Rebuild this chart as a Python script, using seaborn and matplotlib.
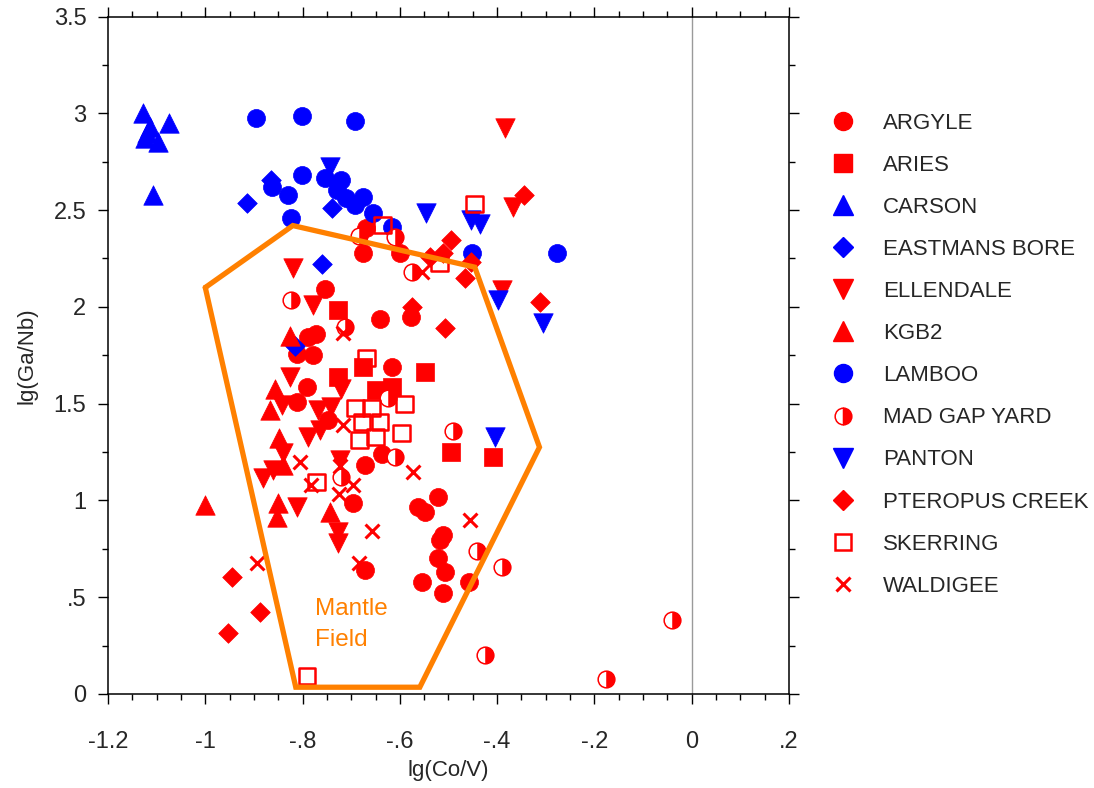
import matplotlib
matplotlib.use("Agg")
import numpy as np
import pandas as pd
import matplotlib.pyplot as plt
from matplotlib.lines import Line2D
from matplotlib.markers import MarkerStyle
from matplotlib.ticker import FixedLocator, FixedFormatter, MultipleLocator
import seaborn as sns

sns.set_theme(style="white")
plt.rcParams["font.family"] = ["Liberation Sans", "DejaVu Sans"]

# ---- sample data: lg(Co/V) and lg(Ga/Nb) per locality ----
argyle_x = [-0.670, -0.676, -0.600, -0.754, -0.641, -0.578, -0.789, -0.773, -0.812, -0.779,
            -0.791, -0.812, -0.748, -0.617, -0.672, -0.637, -0.522, -0.563, -0.549, -0.512,
            -0.518, -0.522, -0.508, -0.555, -0.512, -0.457, -0.697, -0.672]
argyle_y = [2.407, 2.278, 2.278, 2.092, 1.937, 1.947, 1.844, 1.860, 1.756, 1.751,
            1.586, 1.508, 1.415, 1.689, 1.183, 1.240, 1.018, 0.966, 0.940, 0.821,
            0.795, 0.702, 0.630, 0.579, 0.522, 0.579, 0.987, 0.640]

aries_x = [-0.728, -0.676, -0.549, -0.617, -0.650, -0.728, -0.494, -0.409]
aries_y = [1.983, 1.689, 1.663, 1.586, 1.570, 1.637, 1.250, 1.224]

carson_x = [-1.129, -1.074, -1.114, -1.120, -1.124, -1.097, -1.107]
carson_y = [3.000, 2.950, 2.930, 2.900, 2.870, 2.853, 2.578]

eastmans_x = [-0.915, -0.864, -0.739, -0.761, -0.816]
eastmans_y = [2.534, 2.655, 2.509, 2.221, 1.800]

ellendale_x = [-0.383, -0.368, -0.389, -0.820, -0.779, -0.826, -0.722, -0.769, -0.742, -0.789,
               -0.765, -0.841, -0.724, -0.861, -0.882, -0.812, -0.728, -0.728, -0.843]
ellendale_y = [2.924, 2.515, 2.087, 2.200, 2.009, 1.637, 1.575, 1.467, 1.482, 1.327,
               1.364, 1.245, 1.209, 1.157, 1.116, 0.966, 0.837, 0.780, 1.493]

kgb2_x = [-1.001, -0.826, -0.857, -0.867, -0.849, -0.851, -0.853, -0.744, -0.841]
kgb2_y = [0.976, 1.849, 1.575, 1.467, 1.322, 0.987, 0.914, 0.940, 1.183]

lamboo_x = [-0.896, -0.802, -0.693, -0.802, -0.863, -0.830, -0.824, -0.754, -0.720, -0.730,
            -0.710, -0.676, -0.693, -0.655, -0.617, -0.452, -0.277]
lamboo_y = [2.975, 2.986, 2.960, 2.680, 2.620, 2.580, 2.460, 2.664, 2.655, 2.603,
            2.560, 2.569, 2.526, 2.483, 2.410, 2.276, 2.280]

madgap_x = [-0.824, -0.713, -0.625, -0.611, -0.720, -0.490, -0.442, -0.391, -0.424, -0.177,
            -0.040, -0.683, -0.609, -0.576]
madgap_y = [2.035, 1.896, 1.529, 1.224, 1.121, 1.358, 0.739, 0.656, 0.201, 0.077,
            0.382, 2.366, 2.361, 2.180]

panton_x = [-0.744, -0.547, -0.453, -0.436, -0.399, -0.306, -0.405]
panton_y = [2.725, 2.486, 2.448, 2.430, 2.035, 1.915, 1.330]

pteropus_x = [-0.344, -0.494, -0.539, -0.512, -0.453, -0.467, -0.311, -0.576, -0.508, -0.945,
              -0.888, -0.954]
pteropus_y = [2.577, 2.345, 2.257, 2.278, 2.231, 2.149, 2.025, 1.999, 1.890, 0.604,
              0.424, 0.315]

skerring_x = [-0.668, -0.691, -0.658, -0.590, -0.678, -0.641, -0.596, -0.683, -0.650, -0.771,
              -0.791, -0.635, -0.518, -0.446]
skerring_y = [1.736, 1.477, 1.477, 1.498, 1.405, 1.405, 1.348, 1.312, 1.327, 1.095,
              0.093, 2.423, 2.226, 2.531]

waldigee_x = [-0.555, -0.717, -0.717, -0.806, -0.724, -0.783, -0.697, -0.726, -0.658, -0.683,
              -0.894, -0.574, -0.455]
waldigee_y = [2.180, 1.865, 1.389, 1.198, 1.178, 1.080, 1.080, 1.033, 0.842, 0.677,
              0.677, 1.147, 0.899]

sites = ["ARGYLE", "ARIES", "CARSON", "EASTMANS BORE", "ELLENDALE", "KGB2", "LAMBOO",
         "MAD GAP YARD", "PANTON", "PTEROPUS CREEK", "SKERRING", "WALDIGEE"]
site_x = [argyle_x, aries_x, carson_x, eastmans_x, ellendale_x, kgb2_x, lamboo_x,
          madgap_x, panton_x, pteropus_x, skerring_x, waldigee_x]
site_y = [argyle_y, aries_y, carson_y, eastmans_y, ellendale_y, kgb2_y, lamboo_y,
          madgap_y, panton_y, pteropus_y, skerring_y, waldigee_y]

# Mantle field outline (lg(Co/V), lg(Ga/Nb))
mantle_x = [-1.00, -0.82, -0.446, -0.313, -0.559, -0.814, -1.00]
mantle_y = [2.10, 2.42, 2.205, 1.275, 0.035, 0.035, 2.10]

xtick_vals = [-1.2, -1.0, -0.8, -0.6, -0.4, -0.2, 0.0, 0.2]
xtick_text = ["-1.2", "-1", "-.8", "-.6", "-.4", "-.2", "0", ".2"]
ytick_vals = [0, 0.5, 1.0, 1.5, 2.0, 2.5, 3.0, 3.5]
ytick_text = ["0", ".5", "1", "1.5", "2", "2.5", "3", "3.5"]

# ---- styling ----
RED = "#ff0000"
BLUE = "#0000ff"
ORANGE = "#ff8000"

styles = {
    "ARGYLE":         dict(marker="o", size=13.0, color=RED,  fill=True),
    "ARIES":          dict(marker="s", size=13.2, color=RED,  fill=True),
    "CARSON":         dict(marker="^", size=14.0, color=BLUE, fill=True),
    "EASTMANS BORE":  dict(marker="D", size=10.0, color=BLUE, fill=True),
    "ELLENDALE":      dict(marker="v", size=14.0, color=RED,  fill=True),
    "KGB2":           dict(marker="^", size=14.0, color=RED,  fill=True),
    "LAMBOO":         dict(marker="o", size=13.0, color=BLUE, fill=True),
    "MAD GAP YARD":   dict(marker="o", size=12.0, color=RED,  fill="half"),
    "PANTON":         dict(marker="v", size=14.0, color=BLUE, fill=True),
    "PTEROPUS CREEK": dict(marker="D", size=10.0, color=RED,  fill=True),
    "SKERRING":       dict(marker="s", size=12.0, color=RED,  fill=False),
    "WALDIGEE":       dict(marker="x", size=10.0, color=RED,  fill=False),
}

W, H = 1094, 788
fig = plt.figure(figsize=(W / 100, H / 100), dpi=100)
ax = fig.add_axes([108 / W, 1 - 694 / H, (789 - 108) / W, (694 - 16.5) / H])

ax.axvline(0, color="#9a9a9a", lw=1.0, zorder=0.5)

for name, xs, ys in zip(sites, site_x, site_y):
    st = styles[name]
    df = pd.DataFrame({"x": xs, "y": ys})
    s = st["size"] ** 2
    if st["fill"] == "half":
        sns.scatterplot(data=df, x="x", y="y", ax=ax, marker="o", s=s,
                        facecolor="white", edgecolor=st["color"], linewidth=1.1, legend=False)
        sns.scatterplot(data=df, x="x", y="y", ax=ax, marker=MarkerStyle("o", fillstyle="right"),
                        s=s, color=st["color"], edgecolor=st["color"], linewidth=0.4, legend=False)
    elif st["marker"] == "x":
        sns.scatterplot(data=df, x="x", y="y", ax=ax, marker="x", s=s,
                        color=st["color"], linewidth=2.2, legend=False)
    elif st["fill"] is False:
        sns.scatterplot(data=df, x="x", y="y", ax=ax, marker=st["marker"], s=s,
                        facecolor="none", edgecolor=st["color"], linewidth=1.8, legend=False)
    else:
        sns.scatterplot(data=df, x="x", y="y", ax=ax, marker=st["marker"], s=s,
                        color=st["color"], edgecolor=st["color"], linewidth=0.5, legend=False)

ax.plot(mantle_x, mantle_y, color=ORANGE, lw=3.8, solid_joinstyle="miter", zorder=3)
ax.text(-0.775, 0.36, "Mantle\nField", color=ORANGE, fontsize=17.5, ha="left", va="center",
        linespacing=1.5)

ax.set_xlim(-1.2, 0.2)
ax.set_ylim(0, 3.5)
ax.xaxis.set_major_locator(FixedLocator(xtick_vals))
ax.xaxis.set_major_formatter(FixedFormatter(xtick_text))
ax.yaxis.set_major_locator(FixedLocator(ytick_vals))
ax.yaxis.set_major_formatter(FixedFormatter(ytick_text))
ax.xaxis.set_minor_locator(MultipleLocator(0.05))
ax.yaxis.set_minor_locator(MultipleLocator(0.25))
ax.tick_params(which="both", direction="out", top=True, right=True, bottom=True, left=True,
               labeltop=False, labelright=False, color="black", width=1.0)
ax.tick_params(which="major", length=7.5, labelsize=17)
ax.tick_params(which="minor", length=4)
ax.tick_params(axis="x", which="major", pad=19)
ax.tick_params(axis="y", which="major", pad=8)
for sp in ax.spines.values():
    sp.set_color("black")
    sp.set_linewidth(1.1)

ax.set_xlabel("lg(Co/V)", fontsize=16, labelpad=5)
ax.set_ylabel("lg(Ga/Nb)", fontsize=16, labelpad=12)

handles = []
for name in sites:
    st = styles[name]
    if st["fill"] == "half":
        h = Line2D([], [], linestyle="none", marker="o", markersize=st["size"],
                   fillstyle="right", markerfacecolor=st["color"], markerfacecoloralt="white",
                   markeredgecolor=st["color"], markeredgewidth=1.1)
    elif st["marker"] == "x":
        h = Line2D([], [], linestyle="none", marker="x", markersize=st["size"],
                   color=st["color"], markeredgewidth=2.2)
    elif st["fill"] is False:
        h = Line2D([], [], linestyle="none", marker=st["marker"], markersize=st["size"],
                   markerfacecolor="none", markeredgecolor=st["color"], markeredgewidth=1.8)
    else:
        h = Line2D([], [], linestyle="none", marker=st["marker"], markersize=st["size"],
                   color=st["color"])
    handles.append(h)

fig.legend(handles, sites, loc="upper left", bbox_to_anchor=(816 / W, 1 - 97 / H),
           frameon=False, fontsize=16, handlelength=1.0, handletextpad=1.3,
           labelspacing=0.95, borderpad=0.2, markerscale=1.0)

fig.savefig("out.png", dpi=100)
